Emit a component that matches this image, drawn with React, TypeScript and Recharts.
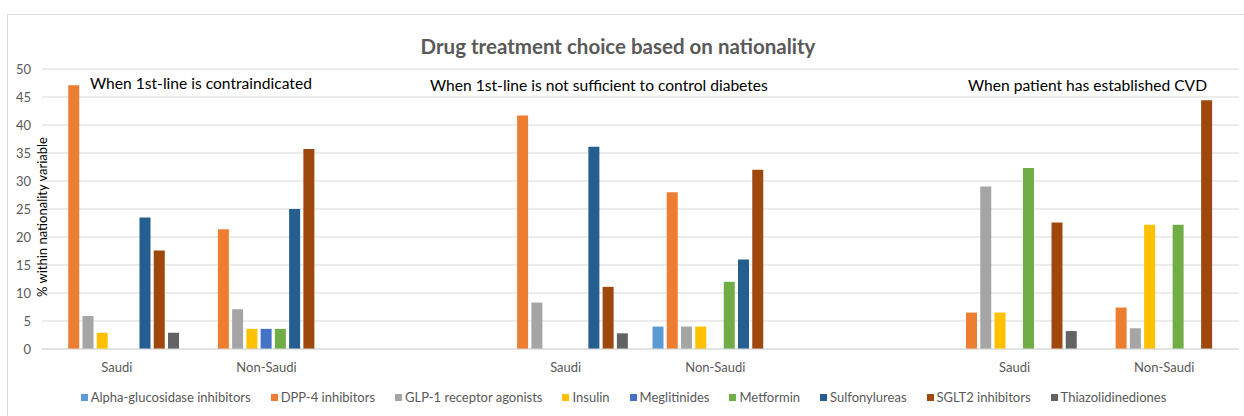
import React from 'react'
import { BarChart, Bar, XAxis, YAxis, CartesianGrid, Legend } from 'recharts'

// one entry per scenario, each scenario has a Saudi and a Non-Saudi column
const scenarios = [
  'When 1st-line is contraindicated',
  'When 1st-line is not sufficient to control diabetes',
  'When patient has established CVD',
]
const nationalities = ['Saudi', 'Non-Saudi']

// values in scenario order: [S1 Saudi, S1 Non-Saudi, S2 Saudi, S2 Non-Saudi, S3 Saudi, S3 Non-Saudi]
const alphaGlucosidase = [0, 0, 0, 4, 0, 0]
const dpp4 = [47.1, 21.4, 41.7, 28, 6.5, 7.4]
const glp1 = [5.9, 7.1, 8.3, 4, 29, 3.7]
const insulin = [2.9, 3.6, 0, 4, 6.5, 22.2]
const meglitinides = [0, 3.6, 0, 0, 0, 0]
const metformin = [0, 3.6, 0, 12, 32.3, 22.2]
const sulfonylureas = [23.5, 25, 36.1, 16, 0, 0]
const sglt2 = [17.6, 35.7, 11.1, 32, 22.6, 44.4]
const thiazolidinediones = [2.9, 0, 2.8, 0, 3.2, 0]

const yTicks = [0, 5, 10, 15, 20, 25, 30, 35, 40, 45, 50]

const series = [
  { name: 'Alpha-glucosidase inhibitors', values: alphaGlucosidase, color: '#5B9BD5' },
  { name: 'DPP-4 inhibitors', values: dpp4, color: '#ED7D31' },
  { name: 'GLP-1 receptor agonists', values: glp1, color: '#A5A5A5' },
  { name: 'Insulin', values: insulin, color: '#FFC000' },
  { name: 'Meglitinides', values: meglitinides, color: '#4472C4' },
  { name: 'Metformin', values: metformin, color: '#70AD47' },
  { name: 'Sulfonylureas', values: sulfonylureas, color: '#255E91' },
  { name: 'SGLT2 inhibitors', values: sglt2, color: '#9E480E' },
  { name: 'Thiazolidinediones', values: thiazolidinediones, color: '#636363' },
]

// build rows, with an empty spacer category between scenarios
const data: any[] = []
scenarios.forEach((_, si) => {
  if (si > 0) data.push({ key: `gap-${si}`, label: '' })
  nationalities.forEach((nat, ni) => {
    const idx = si * 2 + ni
    const row: any = { key: `${si}-${nat}`, label: nat }
    series.forEach((s) => {
      row[s.name] = s.values[idx]
    })
    data.push(row)
  })
})

const FONT = 'Lato, "Open Sans", sans-serif'
const labelByKey: Record<string, string> = Object.fromEntries(data.map((d) => [d.key, d.label]))
const seriesOrder = series.map((s) => s.name)

function LegendContent(props: any) {
  const payload = [...(props.payload || [])].sort(
    (a: any, b: any) => seriesOrder.indexOf(a.value) - seriesOrder.indexOf(b.value)
  )
  return (
    <div
      style={{
        display: 'flex',
        justifyContent: 'center',
        alignItems: 'center',
        height: 36,
        fontFamily: FONT,
        fontSize: 13,
        color: '#595959',
        whiteSpace: 'nowrap',
      }}
    >
      {payload.map((entry: any) => (
        <span key={entry.value} style={{ display: 'inline-flex', alignItems: 'center', margin: '0 10px' }}>
          <span style={{ width: 7, height: 7, background: entry.color, marginRight: 3, display: 'inline-block' }} />
          {entry.value}
        </span>
      ))}
    </div>
  )
}

export default function App() {
  return (
    <>
      <style>{`html,body{margin:0;overflow:hidden;background:#fff}`}</style>
      <div
        style={{
          position: 'absolute',
          left: 7,
          top: 14,
          width: 1236,
          height: 410,
          borderLeft: '1px solid #d9d9d9',
          borderTop: '1px solid #d9d9d9',
          fontFamily: FONT,
        }}
      >
        <div
          style={{
            position: 'absolute',
            left: 310,
            width: 600,
            top: 17,
            textAlign: 'center',
            fontSize: 20.5,
            fontWeight: 'bold',
            color: '#595959',
            lineHeight: '28px',
          }}
        >
          Drug treatment choice based on nationality
        </div>
        <div style={{ position: 'absolute', left: 82, top: 58, fontSize: 15.6, color: '#000', lineHeight: '20px' }}>
          {scenarios[0]}
        </div>
        <div style={{ position: 'absolute', left: 422, top: 60, fontSize: 15.6, color: '#000', lineHeight: '20px' }}>
          {scenarios[1]}
        </div>
        <div style={{ position: 'absolute', left: 960, top: 60, fontSize: 15.6, color: '#000', lineHeight: '20px' }}>
          {scenarios[2]}
        </div>
        <BarChart
          width={1236}
          height={400}
          data={data}
          margin={{ top: 54, right: 5, bottom: 0, left: 0 }}
          barGap={3.25}
        >
          <CartesianGrid vertical={false} stroke="#d9d9d9" />
          <XAxis
            dataKey="key"
            interval={0}
            tickFormatter={(k: string) => labelByKey[k]}
            tickLine={false}
            tickMargin={8}
            axisLine={{ stroke: '#d9d9d9' }}
            height={30}
            tick={{ fontSize: 13, fill: '#595959', fontFamily: FONT }}
          />
          <YAxis
            width={34}
            domain={[0, 50]}
            ticks={yTicks}
            axisLine={false}
            tickLine={false}
            tickMargin={5}
            tick={{ fontSize: 13, fill: '#595959', fontFamily: FONT }}
          />
          <Legend verticalAlign="bottom" height={36} content={<LegendContent />} />
          {series.map((s) => (
            <Bar key={s.name} dataKey={s.name} fill={s.color} barSize={11} isAnimationActive={false} />
          ))}
        </BarChart>
        <div
          style={{
            position: 'absolute',
            left: 34 - 100,
            top: 202 - 9,
            width: 200,
            textAlign: 'center',
            fontSize: 13,
            lineHeight: '18px',
            color: '#000',
            transform: 'rotate(-90deg)',
            whiteSpace: 'nowrap',
          }}
        >
          % within nationality variable
        </div>
      </div>
    </>
  )
}
